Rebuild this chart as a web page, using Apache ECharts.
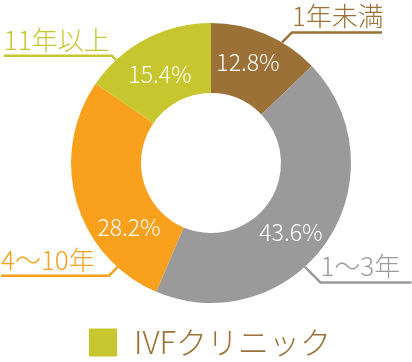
<!DOCTYPE html>
<html><head><meta charset="utf-8">
<script src="https://cdn.jsdelivr.net/npm/echarts@6/dist/echarts.min.js"></script>
<style>html,body{margin:0;padding:0;background:#fff}#c{width:412px;height:362px}</style>
</head><body><div id="c"></div>
<script>
// ---- data ----
const categories = ['1年未満', '1〜3年', '4〜10年', '11年以上'];
const values = [12.8, 43.6, 28.2, 15.4];
const seriesName = 'IVFクリニック';

// ---- style / layout ----
const COLORS = ['#9C7138', '#9A9A9A', '#F9A11D', '#C8C62E'];
const LEGEND_COLOR = '#C8C62E';
const LEGEND_TEXT = '#9B7338';
const FONT = "'Noto Sans CJK JP', 'Noto Sans', sans-serif";
const CX = 211, CY = 163, R_IN = 70, R_OUT = 140;
const INNER_LABEL = [{deg: 20.1, r: 107.6}, {deg: 130.8, r: 105.6}, {deg: 232, r: 104}, {deg: 330.2, r: 102.6}];
const OUTER_LABEL = [{deg: 30.5, diag: 14, h: 90}, {deg: 137.9, diag: 22, h: 91}, {deg: 221.9, diag: 12, h: 108}, {deg: 317.3, diag: 6, h: 108}];

const innerData = categories.map((n, i) => ({name: n, value: values[i], itemStyle: {color: COLORS[i]}}));
const outerData = categories.map((n, i) => ({
  name: n, value: values[i],
  itemStyle: {color: 'rgba(0,0,0,0)'},
  label: {color: COLORS[i]},
  labelLine: {lineStyle: {color: COLORS[i]}}
}));

const chart = echarts.init(document.getElementById('c'), null, {renderer: 'canvas'});
chart.setOption({
  animation: false,
  legend: {
    data: [{name: seriesName, itemStyle: {color: LEGEND_COLOR}}],
    left: 84, top: 322, icon: 'rect', itemWidth: 28, itemHeight: 28,
    selectedMode: false,
    textStyle: {fontSize: 31, fontWeight: 300, color: LEGEND_TEXT, fontFamily: FONT, padding: [0, 0, 0, 12]}
  },
  series: [
    {
      name: seriesName, type: 'pie', center: [CX, CY], radius: [R_IN, R_OUT],
      startAngle: 90, clockwise: true, avoidLabelOverlap: false, silent: true,
      emphasis: {disabled: true},
      label: {
        show: true, position: 'inside', color: '#fff', fontSize: 23, fontWeight: 300, fontFamily: FONT,
        formatter: p => p.value.toFixed(1) + '%'
      },
      labelLine: {show: false},
      labelLayout: p => {
        const o = INNER_LABEL[p.dataIndex];
        const a = o.deg * Math.PI / 180;
        return {x: CX + o.r * Math.sin(a), y: CY - o.r * Math.cos(a), align: 'center', verticalAlign: 'middle'};
      },
      data: innerData
    },
    {
      name: 'labels', type: 'pie', center: [CX, CY], radius: [R_IN, R_OUT],
      startAngle: 90, clockwise: true, avoidLabelOverlap: false, silent: true,
      emphasis: {disabled: true},
      label: {show: true, position: 'outside', fontSize: 26, fontWeight: 300, fontFamily: FONT, formatter: '{b}'},
      labelLine: {show: true, length: 10, length2: 10, smooth: false, lineStyle: {width: 2.5}},
      labelLayout: p => {
        const o = OUTER_LABEL[p.dataIndex];
        const a = o.deg * Math.PI / 180;
        const sx = Math.sin(a) >= 0 ? 1 : -1;
        const sy = Math.cos(a) >= 0 ? -1 : 1;
        const x0 = CX + R_OUT * Math.sin(a), y0 = CY - R_OUT * Math.cos(a);
        const d = o.diag / Math.SQRT2;
        const x1 = x0 + sx * d, y1 = y0 + sy * d;
        const x2 = x1 + sx * o.h;
        return {
          x: sx > 0 ? x1 : x2, y: y1 - 3, align: 'left', verticalAlign: 'bottom',
          labelLinePoints: [[x0, y0], [x1, y1], [x2, y1]]
        };
      },
      data: outerData
    }
  ]
});
</script>
</body></html>
